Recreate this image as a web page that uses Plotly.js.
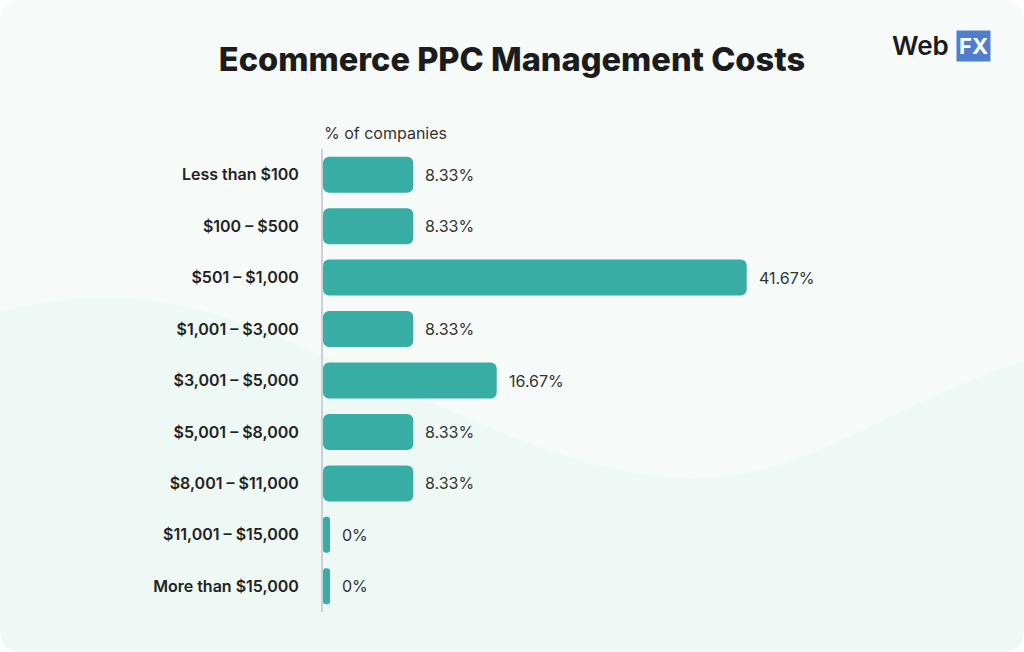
<!DOCTYPE html>
<html>
<head>
<meta charset="utf-8">
<script src="https://cdn.plot.ly/plotly-3.0.1.min.js"></script>
<style>
  html, body { margin: 0; padding: 0; background: #ffffff; }
  #card {
    width: 1024px; height: 652px; border-radius: 20px; overflow: hidden;
    background-color: #f6fbfa;
    background-image: url("data:image/svg+xml;utf8,<svg xmlns='http://www.w3.org/2000/svg' width='1024' height='652' viewBox='0 0 1024 652'><path d='M0,312 C60,296 140,290 220,316 C320,350 420,400 520,440 C600,470 660,482 720,477 C820,468 900,400 1024,362 L1024,652 L0,652 Z' fill='%23eef8f5'/></svg>");
    background-repeat: no-repeat;
  }
  #chart { width: 1024px; height: 652px; }
</style>
</head>
<body>
<div id="card"><div id="chart"></div></div>
<script>
// ---- data ----
const categories = [
  "Less than $100",
  "$100 – $500",
  "$501 – $1,000",
  "$1,001 – $3,000",
  "$3,001 – $5,000",
  "$5,001 – $8,000",
  "$8,001 – $11,000",
  "$11,001 – $15,000",
  "More than $15,000"
];
const shares = [8.33, 8.33, 41.67, 8.33, 16.67, 8.33, 8.33, 0, 0];
const valueLabels = shares.map(v => v + "%");

const titleText = "Ecommerce PPC Management Costs";
const axisCaption = "% of companies";

// ---- layout constants ----
const W = 1024, H = 652;
const mL = 323, mT = 149, mB = 40;
const pxPerUnit = 10.0;
const stubUnits = 0.7;          // minimum visible bar stub (so 0% bars still show)
const xMax = 45;
const plotW = (xMax + stubUnits) * pxPerUnit;
const mR = W - mL - plotW;
const plotH = H - mT - mB;
const px2paperX = px => (px - mL) / plotW;
const py2paperY = py => (H - mB - py) / plotH;

const teal = "#38ada3";
const FONT = "Inter, 'Open Sans', sans-serif";

// each bar starts at the axis start (-stub) and ends exactly at its value
const trace = {
  type: "bar",
  orientation: "h",
  base: shares.map(() => -stubUnits),
  x: shares.map(v => v + stubUnits),
  y: categories,
  marker: { color: teal, cornerradius: 6, line: { width: 0 } },
  hoverinfo: "skip",
  showlegend: false
};

const valueAnnotations = shares.map((v, i) => ({
  x: v, y: categories[i], xref: "x", yref: "y",
  text: valueLabels[i], showarrow: false,
  xanchor: "left", yanchor: "middle",
  xshift: 10,
  font: { family: FONT, size: 16, color: "#333333" }
}));

const layout = {
  width: W, height: H,
  margin: { l: mL, r: mR, t: mT, b: mB, pad: 0 },
  paper_bgcolor: "rgba(0,0,0,0)",
  plot_bgcolor: "rgba(0,0,0,0)",
  bargap: 0.30,
  title: {
    text: titleText,
    x: 0.5, xref: "container", xanchor: "center",
    y: 1 - 60 / H, yref: "container", yanchor: "middle",
    font: { family: FONT, size: 32.6, weight: 800, color: "#1c1c1c" }
  },
  xaxis: {
    range: [-stubUnits, xMax], visible: false, fixedrange: true
  },
  yaxis: {
    type: "category",
    autorange: "reversed",
    showline: true, linecolor: "#cbd1d9", linewidth: 2,
    showgrid: false, zeroline: false,
    ticks: "", ticklabelstandoff: 19,
    tickfont: { family: FONT, size: 16, weight: 600, color: "#222222" },
    fixedrange: true
  },
  annotations: valueAnnotations.concat([
    {
      xref: "paper", yref: "paper",
      x: px2paperX(322), y: py2paperY(133),
      xanchor: "left", yanchor: "middle", showarrow: false,
      text: axisCaption,
      font: { family: FONT, size: 16, color: "#333333" }
    },
    {
      xref: "paper", yref: "paper",
      x: px2paperX(951), y: py2paperY(46),
      xanchor: "right", yanchor: "middle", showarrow: false,
      text: "Web",
      font: { family: FONT, size: 26, weight: 600, color: "#1a1a1a" }
    },
    {
      xref: "paper", yref: "paper",
      x: px2paperX(956), y: py2paperY(46),
      xanchor: "left", yanchor: "middle", showarrow: false,
      text: "<b>FX</b>", bgcolor: "#4f7fcc", borderpad: 2,
      font: { family: FONT, size: 22, color: "#ffffff" }
    }
  ])
};

Plotly.newPlot("chart", [trace], layout, { displayModeBar: false, staticPlot: true });
</script>
</body>
</html>
